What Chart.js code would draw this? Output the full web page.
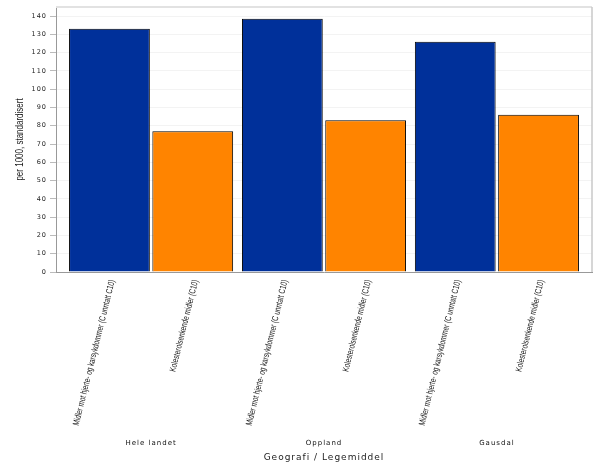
<!DOCTYPE html>
<html>
<head>
<meta charset="utf-8">
<script src="https://cdn.jsdelivr.net/npm/chart.js@4/dist/chart.umd.min.js"></script>
<style>
    html, body { margin: 0; padding: 0; background: #fff; }
    #chart { display: block; }
</style>
</head>
<body>
<canvas id="chart" width="600" height="466"></canvas>
<script>
// Data
const groups = ['Hele landet', 'Oppland', 'Gausdal'];
const seriesNames = ['Midler mot hjerte- og karsykdommer (C unntatt C10)', 'Kolesterolsenkende midler (C10)'];
const heartValues = [133, 138.5, 126];
const cholesterolValues = [77, 83, 86];
const seriesColors = ['#00309a', '#ff8400'];
const yTitle = 'per 1000, standardisert';
const xTitle = 'Geografi / Legemiddel';

// spaced-out letters for axis texts drawn by Chart.js
const letterSpacing = {
    id: 'letterSpacing',
    beforeDraw(chart) {
        chart.ctx.letterSpacing = '1px';
    }
};

// condensed rotated bar labels, y title and plot frame
const extras = {
    id: 'extras',
    afterDraw(chart) {
        const { ctx, chartArea } = chart;
        ctx.save();
        ctx.letterSpacing = '0px';

        // frame: top and right
        ctx.strokeStyle = '#e2e2e2';
        ctx.lineWidth = 2;
        ctx.beginPath();
        ctx.moveTo(chartArea.left, chartArea.top);
        ctx.lineTo(chartArea.right, chartArea.top);
        ctx.stroke();
        ctx.strokeStyle = '#c8c8c8';
        ctx.lineWidth = 1.5;
        ctx.beginPath();
        ctx.moveTo(chartArea.right, chartArea.top);
        ctx.lineTo(chartArea.right, chartArea.bottom);
        ctx.stroke();

        ctx.fillStyle = '#1a1a1a';
        ctx.font = '9px "Liberation Sans", Arial, sans-serif';
        ctx.textAlign = 'right';
        ctx.textBaseline = 'middle';
        chart.data.datasets.forEach((ds, i) => {
            chart.getDatasetMeta(i).data.forEach(bar => {
                ctx.save();
                ctx.translate(bar.x + 3, chartArea.bottom + 8);
                ctx.rotate(-76 * Math.PI / 180);
                ctx.scale(0.72, 1);
                ctx.fillText(ds.label, 0, 0);
                ctx.restore();
            });
        });

        // y axis title
        ctx.save();
        ctx.font = '10px "Liberation Sans", Arial, sans-serif';
        ctx.textAlign = 'center';
        ctx.translate(20, (chartArea.top + chartArea.bottom) / 2);
        ctx.rotate(-Math.PI / 2);
        ctx.scale(0.8, 1);
        ctx.fillText(yTitle, 0, 0);
        ctx.restore();

        ctx.restore();
    }
};

const ctx = document.getElementById('chart').getContext('2d');
new Chart(ctx, {
    type: 'bar',
    data: {
        labels: groups,
        datasets: [
            {
                label: seriesNames[0],
                data: heartValues,
                backgroundColor: seriesColors[0],
                borderColor: '#000',
                borderWidth: 1
            },
            {
                label: seriesNames[1],
                data: cholesterolValues,
                backgroundColor: seriesColors[1],
                borderColor: '#000',
                borderWidth: 1
            }
        ]
    },
    options: {
        responsive: false,
        animation: false,
        layout: {
            padding: { top: 4, right: 8, bottom: 0, left: 0 }
        },
        categoryPercentage: 0.9635,
        barPercentage: 0.97,
        plugins: {
            legend: { display: false },
            tooltip: { enabled: false }
        },
        scales: {
            x: {
                // tighter group pitch than the plain category spread
                afterBuildTicks: scale => {
                    scale._valueRange = 3.1;
                    scale._startValue = -0.55;
                },
                afterFit: scale => {
                    scale.height = 194;
                    scale.paddingLeft = 0;
                    scale.paddingRight = 0;
                },
                // invisible tick length pushes group names below the rotated labels
                grid: { display: false, drawTicks: true, tickLength: 165 },
                border: { display: true, color: '#999' },
                ticks: {
                    padding: 2,
                    maxRotation: 0,
                    color: '#111',
                    font: { family: '"DejaVu Sans", sans-serif', size: 7 }
                },
                title: {
                    display: true,
                    text: xTitle,
                    color: '#222',
                    padding: { top: 0, bottom: 3 },
                    font: { family: '"DejaVu Sans", sans-serif', size: 9 }
                }
            },
            y: {
                min: 0,
                max: 145,
                afterBuildTicks: scale => {
                    scale.ticks = scale.ticks.filter(t => t.value % 10 === 0);
                },
                afterFit: scale => { scale.width = 56; },
                grid: {
                    color: '#f3f3f3',
                    tickColor: '#bbb',
                    tickLength: 6
                },
                border: { display: true, color: '#999' },
                ticks: {
                    stepSize: 10,
                    padding: 3,
                    color: '#222',
                    font: { family: '"DejaVu Sans", sans-serif', size: 6.5 }
                }
            }
        }
    },
    plugins: [letterSpacing, extras]
});
</script>
</body>
</html>
